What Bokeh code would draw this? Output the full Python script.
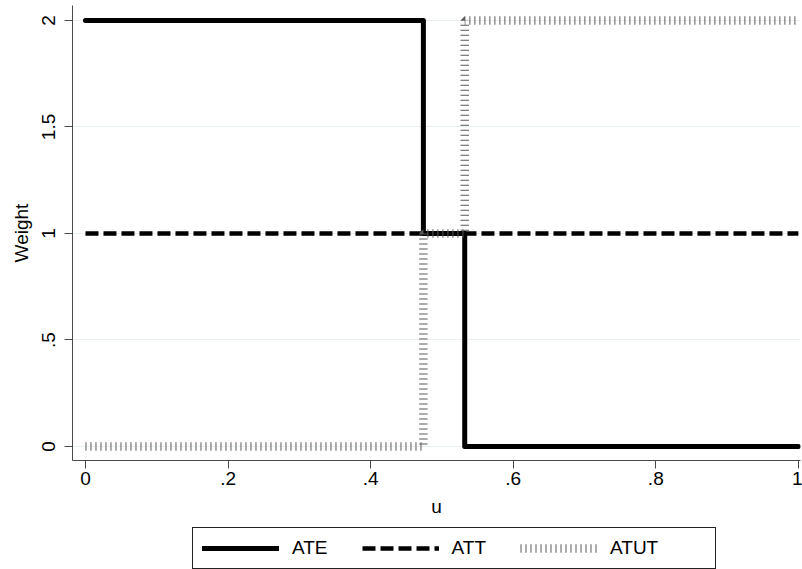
from bokeh.plotting import figure
from bokeh.layouts import column
from bokeh.models import Legend, LegendItem, FixedTicker, Range1d
from bokeh.embed import file_html
from bokeh.resources import INLINE

# Weight functions over u (step functions)
u_ate = [0.0, 0.474, 0.474, 0.532, 0.532, 1.0]
w_ate = [2.0, 2.0, 1.0, 1.0, 0.0, 0.0]

u_att = [0.0, 1.0]
w_att = [1.0, 1.0]

u_atut = [0.0, 0.474, 0.474, 0.532, 0.532, 1.0]
w_atut = [0.0, 0.0, 1.0, 1.0, 2.0, 2.0]

series_names = ["ATE", "ATT", "ATUT"]

x_ticks = [0, 0.2, 0.4, 0.6, 0.8, 1.0]
x_tick_labels = ["0", ".2", ".4", ".6", ".8", "1"]
y_ticks = [0, 0.5, 1.0, 1.5, 2.0]
y_tick_labels = ["0", ".5", "1", "1.5", "2"]

FONT = "Liberation Sans"
AXIS_COLOR = "#4a4a4a"

# line styles shared by the plot and its legend
STYLES = [
    dict(line_color="black", line_width=5, line_cap="round", line_join="round"),
    dict(line_color="black", line_width=4.5, line_dash="13 5"),
    dict(line_color="#5a5a5a", line_width=8.5, line_dash="1 4", line_cap="butt"),
]

p = figure(width=802, height=522, output_backend="svg", toolbar_location=None,
           x_range=Range1d(-0.0182, 1.003), y_range=Range1d(-0.0657, 2.07),
           min_border_left=72, min_border_right=2, min_border_top=5, min_border_bottom=62,
           x_axis_label="u", y_axis_label="Weight")
p.outline_line_color = None
p.background_fill_color = "white"
p.border_fill_color = "white"

# grid: horizontal only
p.xgrid.grid_line_color = None
p.ygrid.grid_line_color = "#e8f0f2"
p.ygrid.grid_line_width = 1
p.ygrid.ticker = FixedTicker(ticks=y_ticks)

p.xaxis.ticker = FixedTicker(ticks=x_ticks)
p.xaxis.major_label_overrides = dict(zip(x_ticks, x_tick_labels))
p.yaxis.ticker = FixedTicker(ticks=y_ticks)
p.yaxis.major_label_overrides = dict(zip(y_ticks, y_tick_labels))
p.yaxis.major_label_orientation = "vertical"

for ax in (p.xaxis, p.yaxis):
    ax.axis_line_color = AXIS_COLOR
    ax.major_tick_line_color = AXIS_COLOR
    ax.axis_line_width = 1
    ax.major_tick_in = 0
    ax.major_tick_out = 8
    ax.minor_tick_line_color = None
    ax.major_label_text_font = FONT
    ax.major_label_text_font_size = "19px"
    ax.major_label_text_color = "black"
    ax.axis_label_text_font = FONT
    ax.axis_label_text_font_size = "19px"
    ax.axis_label_text_font_style = "normal"
    ax.axis_label_text_color = "black"

p.xaxis.major_label_standoff = 3
p.yaxis.major_label_standoff = 9
p.xaxis.axis_label_standoff = 8
p.yaxis.axis_label_standoff = 8

for xs, ys, style in zip([u_ate, u_att, u_atut], [w_ate, w_att, w_atut], STYLES):
    p.line(xs, ys, **style)

# legend strip underneath the plot; its swatch renderers sit outside the
# strip's visible range so only the legend shows
leg = figure(width=802, height=47, output_backend="svg", toolbar_location=None,
             x_axis_type=None, y_axis_type=None,
             x_range=Range1d(0, 1), y_range=Range1d(0, 1),
             min_border_left=0, min_border_right=0, min_border_top=0, min_border_bottom=0)
leg.outline_line_color = None
leg.xgrid.visible = False
leg.ygrid.visible = False
swatches = [leg.line([-5, -4], [-5, -5], **style) for style in STYLES]

legend = Legend(items=[LegendItem(label=name, renderers=[r])
                       for name, r in zip(series_names, swatches)],
                orientation="horizontal", location=(120, 0),
                glyph_width=77, glyph_height=20, label_standoff=13, spacing=34,
                padding=9, margin=0,
                label_text_font=FONT, label_text_font_size="19px",
                label_text_color="black",
                border_line_color="#222222", border_line_width=1, border_line_alpha=1,
                background_fill_color="white", background_fill_alpha=1,
                title=" ", title_location="right", title_standoff=26,
                title_text_font_size="19px")
leg.add_layout(legend, "center")

layout = column(p, leg, spacing=0)
open("out.html", "w").write(file_html(layout, INLINE))
